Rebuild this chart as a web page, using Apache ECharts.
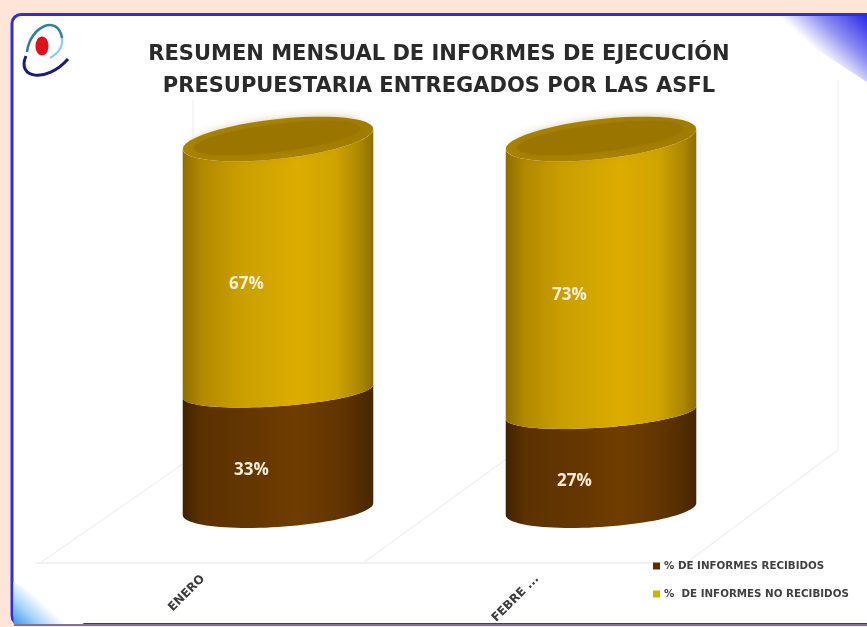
<!DOCTYPE html>
<html>
<head>
<meta charset="utf-8">
<style>
html,body{margin:0;padding:0;background:#fee5d8;}
#chart{width:867px;height:627px;filter:blur(0.5px);}
</style>
<script src="https://cdn.jsdelivr.net/npm/echarts@6/dist/echarts.min.js"></script>
</head>
<body>
<div id="chart"></div>
<script>
var categories = ['ENERO', 'FEBRE ...'];
var received = [33, 27];
var notReceived = [67, 73];
var seriesNames = ['% DE INFORMES RECIBIDOS', '%  DE INFORMES NO RECIBIDOS'];
var titleLines = 'RESUMEN MENSUAL DE INFORMES DE EJECUCIÓN\nPRESUPUESTARIA ENTREGADOS POR LAS ASFL';

var FONT = '"DejaVu Sans", sans-serif';
var BROWN_STOPS = [[0, '#3f2200'], [0.1, '#5c3200'], [0.4, '#663700'], [0.6, '#703d00'], [0.85, '#5f3300'], [1, '#472600']];
var GOLD_STOPS = [[0, '#8e6e00'], [0.1, '#b38900'], [0.3, '#c99f00'], [0.6, '#dcac00'], [0.8, '#d0a400'], [0.94, '#a98400'], [1, '#8c6d00']];

function hGrad(x0, x1, stops) {
  return {
    type: 'linear', x: x0, y: 0, x2: x1, y2: 0, global: true,
    colorStops: stops.map(function (s) { return { offset: s[0], color: s[1] }; })
  };
}
function ellipsePts(cx, cy, a, b, shear, from, to) {
  var pts = [], n = 48;
  for (var i = 0; i <= n; i++) {
    var t = from + (to - from) * i / n;
    pts.push([cx + a * Math.cos(t), cy + b * Math.sin(t) + shear * Math.cos(t)]);
  }
  return pts;
}
function cylinder(stops, opt) {
  return function (params, api) {
    var c = api.value(0), start = api.value(1), end = api.value(2);
    var p0 = api.coord([c, start]), p1 = api.coord([c, end]);
    var band = api.size([1, 0])[0];
    var a = band * 0.295;
    var cx = p0[0];
    var topY = p1[1] - opt.perspective;
    var lower = ellipsePts(cx, p0[1], a, opt.lowerB, -opt.lowerS, Math.PI, 0);
    var upper = ellipsePts(cx, topY, a, opt.upperB, -opt.upperS, 0, Math.PI);
    var children = [{
      type: 'polygon',
      shape: { points: lower.concat(upper) },
      style: { fill: hGrad(cx - a, cx + a, stops) }
    }];
    if (opt.cap) {
      children.push({
        type: 'polygon',
        shape: { points: ellipsePts(cx, topY, a, opt.upperB, -opt.upperS, 0, Math.PI * 2) },
        style: { fill: hGrad(cx - a, cx + a, [[0, '#a98300'], [0.5, '#ad8600'], [1, '#a07c00']]) }
      });
      children.push({
        type: 'polygon',
        shape: { points: ellipsePts(cx - 1, topY - 1, a - 12, opt.upperB - 6, -opt.upperS, 0, Math.PI * 2) },
        style: { fill: '#9a7600', shadowBlur: 12, shadowColor: '#9a7600' }
      });
    }
    children.push({
      type: 'text',
      x: cx + opt.labelDx,
      y: (p0[1] + p1[1]) / 2 + opt.labelDy,
      style: {
        text: api.value(3) + '%',
        fill: '#f7eeda',
        font: 'bold 17px "Open Sans", sans-serif',
        align: 'center',
        verticalAlign: 'middle'
      }
    });
    return { type: 'group', children: children };
  };
}

var brownData = categories.map(function (n, i) { return [i, 0, received[i], received[i]]; });
var goldData = categories.map(function (n, i) { return [i, received[i], received[i] + notReceived[i], notReceived[i]]; });

var chart = echarts.init(document.getElementById('chart'), null, { renderer: 'canvas' });
chart.setOption({
  animation: false,
  backgroundColor: 'transparent',
  title: {
    text: titleLines,
    left: 434, top: 34, textAlign: 'center',
    textStyle: { fontFamily: FONT, fontWeight: 'bold', fontSize: 21, lineHeight: 32, color: '#2a2a2a' }
  },
  legend: {
    left: 648, top: 556, orient: 'vertical', itemGap: 18, itemWidth: 7, itemHeight: 7,
    data: [
      { name: seriesNames[0], icon: 'rect', itemStyle: { color: '#5a3000' } },
      { name: seriesNames[1], icon: 'rect', itemStyle: { color: '#cdb500' } }
    ],
    textStyle: { fontFamily: FONT, fontWeight: 'bold', fontSize: 10.3, color: '#404040', padding: [0, 0, 0, -1] },
    selectedMode: false
  },
  grid: [
    { left: 116.5, width: 646, top: 152, bottom: 118 },
    { left: 36, width: 668, top: 139, bottom: 64 }
  ],
  xAxis: [
    { type: 'category', gridIndex: 0, data: categories, show: false },
    {
      type: 'category', gridIndex: 1, data: categories,
      axisTick: { show: false },
      axisLine: { show: true, lineStyle: { color: '#f1f1f1', width: 2 } },
      axisLabel: {
        rotate: 45, margin: 14, interval: 0,
        fontFamily: FONT, fontWeight: 'bold', fontSize: 12, color: '#3c3c3c'
      }
    }
  ],
  yAxis: [
    { type: 'value', gridIndex: 0, min: 0, max: 100, show: false },
    { type: 'value', gridIndex: 1, show: false, min: 0, max: 100 }
  ],
  series: [
    {
      name: seriesNames[0], type: 'custom', xAxisIndex: 0, yAxisIndex: 0,
      renderItem: cylinder(BROWN_STOPS, { labelDx: -26.5, labelDy: 20, lowerB: 18, lowerS: 6, upperB: 15, upperS: 6.5, perspective: 0, cap: false }),
      encode: { x: 0, y: [1, 2] }, data: brownData, z: 3,
      itemStyle: { color: '#5a3000' }, clip: false
    },
    {
      name: seriesNames[1], type: 'custom', xAxisIndex: 0, yAxisIndex: 0,
      renderItem: cylinder(GOLD_STOPS, { labelDx: -31.5, labelDy: 13, lowerB: 15, lowerS: 6.5, upperB: 20, upperS: 10, perspective: 13, cap: true }),
      encode: { x: 0, y: [1, 2] }, data: goldData, z: 4,
      itemStyle: { color: '#c9a000' }, clip: false
    }
  ],
  graphic: [
    { type: 'rect', z: -10, silent: true,
      shape: { x: 12, y: 14.5, width: 880, height: 610, r: 9 },
      style: { fill: '#ffffff', stroke: '#2f2fd8', lineWidth: 3 } },
    { type: 'line', z: -9, shape: { x1: 14, y1: 625, x2: 867, y2: 625 },
      style: { stroke: '#77779a', lineWidth: 2 } },
    { type: 'polygon', z: -8, silent: true,
      shape: { points: [[765, 16], [867, 16], [867, 82]] },
      style: { fill: { type: 'linear', x: 867, y: 16, x2: 826, y2: 60, global: true,
        colorStops: [{ offset: 0, color: '#2a2ae6' }, { offset: 0.55, color: '#8f8ff2' }, { offset: 1, color: '#ffffff' }] } } },
    { type: 'polygon', z: -8, silent: true,
      shape: { points: [[13.5, 582], [13.5, 624], [84, 624]] },
      style: { fill: { type: 'linear', x: 14, y: 624, x2: 38, y2: 598, global: true,
        colorStops: [{ offset: 0, color: '#3f98ee' }, { offset: 0.5, color: '#a6d4f6' }, { offset: 1, color: '#ffffff' }] } } },
    { type: 'line', z: -5, shape: { x1: 40, y1: 563, x2: 193, y2: 457 }, style: { stroke: '#f1f1f1', lineWidth: 1.5 } },
    { type: 'line', z: -5, shape: { x1: 363, y1: 563, x2: 516, y2: 452 }, style: { stroke: '#f1f1f1', lineWidth: 1.5 } },
    { type: 'line', z: -5, shape: { x1: 690, y1: 560, x2: 838, y2: 450 }, style: { stroke: '#f1f1f1', lineWidth: 1.5 } },
    { type: 'line', z: -5, shape: { x1: 193, y1: 100, x2: 193, y2: 457 }, style: { stroke: '#ececec', lineWidth: 1 } },
    { type: 'line', z: -5, shape: { x1: 838, y1: 80, x2: 838, y2: 450 }, style: { stroke: '#f0f0f0', lineWidth: 1 } },
    { type: 'bezierCurve', z: -2,
      shape: { x1: 27, y1: 52, cpx1: 30, cpy1: 26, cpx2: 58, cpy2: 14, x2: 62, y2: 38 },
      style: { fill: 'none', stroke: '#2f7f9c', lineWidth: 2.5 } },
    { type: 'bezierCurve', z: -2,
      shape: { x1: 62, y1: 38, cpx1: 63, cpy1: 48, cpx2: 58, cpy2: 53, x2: 50, y2: 58 },
      style: { fill: 'none', stroke: '#7fd0e6', lineWidth: 2 } },
    { type: 'bezierCurve', z: -2,
      shape: { x1: 26, y1: 56, cpx1: 16, cpy1: 78, cpx2: 46, cpy2: 84, x2: 68, y2: 59 },
      style: { fill: 'none', stroke: '#1c1c78', lineWidth: 3 } },
    { type: 'ellipse', z: -1,
      shape: { cx: 42, cy: 46, rx: 6.5, ry: 9.5 },
      style: { fill: '#e0101c' } }
  ]
});
</script>
</body>
</html>
